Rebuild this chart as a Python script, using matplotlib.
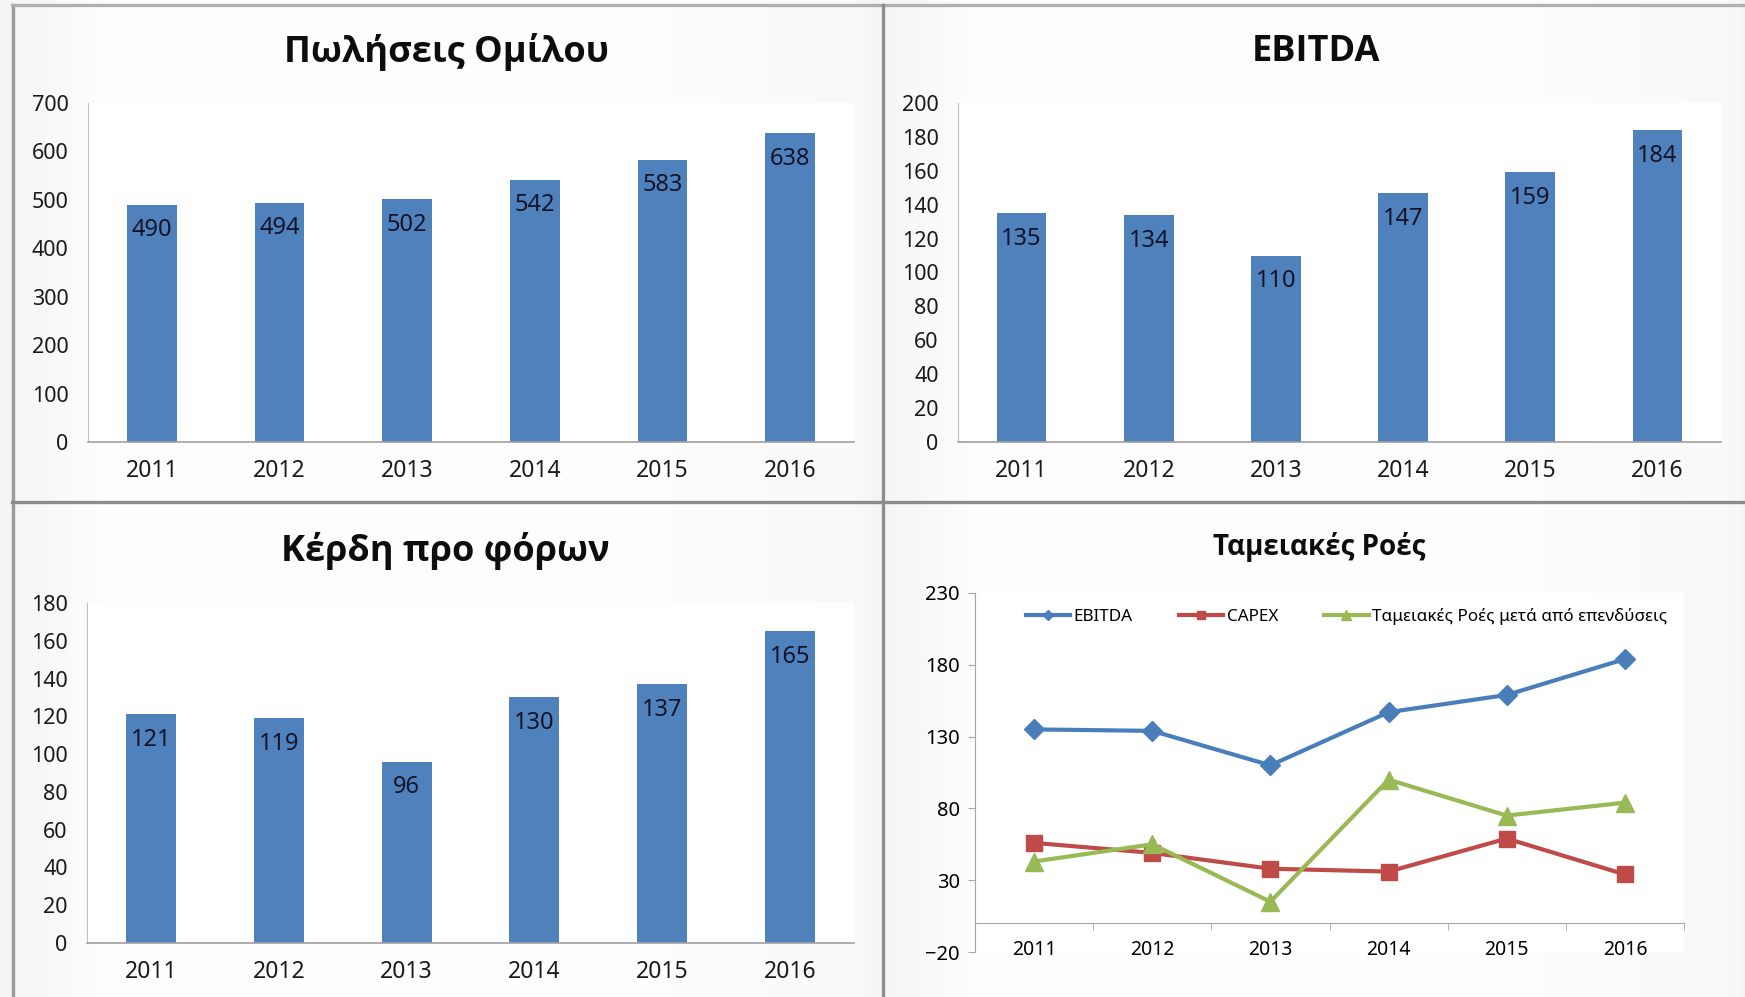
import numpy as np
import matplotlib.pyplot as plt
from matplotlib import font_manager
from matplotlib.lines import Line2D

years = ['2011', '2012', '2013', '2014', '2015', '2016']
sales = [490, 494, 502, 542, 583, 638]
ebitda = [135, 134, 110, 147, 159, 184]
ebt = [121, 119, 96, 130, 137, 165]
capex = [56, 49, 38, 36, 59, 34]
fcf = [43, 55, 15, 100, 75, 84]

BLUE = '#4F81BD'
plt.rcParams['font.family'] = ['Noto Sans', 'DejaVu Sans']
W, H = 1745, 997

# pick a family that really has a bold face for the titles
bold_names = {f.name for f in font_manager.fontManager.ttflist
              if f.weight in (600, 700, 'bold', 'semibold')}
TITLE_FONT = 'DejaVu Sans'
for name in ['Open Sans', 'Noto Sans', 'Roboto', 'Liberation Sans']:
    if name in bold_names:
        TITLE_FONT = name
        break

fig = plt.figure(figsize=(W / 100, H / 100), dpi=100)

# soft grey background
bg = fig.add_axes([0, 0, 1, 1], zorder=-10)
gx, gy = np.meshgrid(np.linspace(0, 1, 400), np.linspace(0, 1, 230))
px = (gx * 2) % 1
g = 0.995 - 0.08 * np.clip(px - 0.72, 0, 1) ** 1.1 - 0.3 * np.clip(0.12 - px, 0, 1)
g = np.clip(g, 0.9, 1)
bg.imshow(np.dstack([g, g, g]), aspect='auto', extent=[0, 1, 0, 1])
bg.set_xlim(0, 1)
bg.set_ylim(0, 1)
bg.axis('off')


def fx(p):
    return p / W


def fy(p):
    return 1 - p / H


def rect(x0, y0, x1, y1):
    return [fx(x0), fy(y1), fx(x1) - fx(x0), fy(y0) - fy(y1)]


# panel borders
for xs, ys, c in [((13, 13), (5, 997), '#9a9a9a'),
                  ((12, 1745), (5, 5), '#b0b0b0'),
                  ((883, 883), (5, 997), '#8c8c8c'),
                  ((12, 1745), (502, 502), '#8c8c8c')]:
    fig.add_artist(Line2D([fx(xs[0]), fx(xs[1])], [fy(ys[0]), fy(ys[1])],
                          color=c, lw=2.4, transform=fig.transFigure))


def bar_panel(r, vals, ymax, step, title, tx, ty):
    ax = fig.add_axes(r)
    x = np.arange(len(years))
    ax.bar(x, vals, width=0.39, color=BLUE)
    for xi, v in zip(x, vals):
        ax.annotate(str(v), (xi, v), xytext=(0, -18.5), textcoords='offset points',
                    ha='center', va='center', fontsize=17, color='#141428')
    ax.set_xlim(-0.5, 5.5)
    ax.set_ylim(0, ymax)
    ax.set_yticks(np.arange(0, ymax + 1, step))
    ax.set_xticks(x)
    ax.set_xticklabels(years)
    ax.tick_params(axis='y', length=0, pad=14, labelsize=15.5, labelcolor='#1a1a1a')
    ax.tick_params(axis='x', length=0, pad=12, labelsize=16.5, labelcolor='#1a1a1a')
    for s in ['top', 'right']:
        ax.spines[s].set_visible(False)
    ax.spines['left'].set_color('#c0c0c0')
    ax.spines['bottom'].set_color('#a0a0a0')
    ax.spines['bottom'].set_linewidth(1.2)
    fig.text(fx(tx), fy(ty), title, fontsize=26, fontweight='bold',
             family=[TITLE_FONT, 'DejaVu Sans'],
             ha='center', va='center', color='#0d0d0d')
    return ax


bar_panel(rect(88, 103, 854, 442), sales, 700, 100, 'Πωλήσεις Ομίλου', 446, 52)
bar_panel(rect(958, 103, 1721, 442), ebitda, 200, 20, 'EBITDA', 1316, 52)
bar_panel(rect(87, 603, 854, 943), ebt, 180, 20, 'Κέρδη προ φόρων', 445, 551)

# cash flow line chart
ax = fig.add_axes(rect(975, 593, 1684, 952))
x = np.arange(len(years))
ax.plot(x, ebitda, color='#4A7EBB', lw=3, marker='D', ms=10, label='EBITDA')
ax.plot(x, capex, color='#BE4B48', lw=3, marker='s', ms=11.5, label='CAPEX')
ax.plot(x, fcf, color='#98B954', lw=3, marker='^', ms=13,
        label='Ταμειακές Ροές μετά από επενδύσεις')
ax.set_xlim(-0.5, 5.5)
ax.set_ylim(-20, 230)
ax.set_yticks(np.arange(-20, 231, 50))
ax.set_xticks(x)
ax.set_xticklabels(years)
ax.set_xticks(np.arange(-0.5, 5.6, 1), minor=True)
ax.spines['bottom'].set_position(('data', 0))
for s in ['top', 'right']:
    ax.spines[s].set_visible(False)
ax.spines['left'].set_color('#a6a6a6')
ax.spines['bottom'].set_color('#a6a6a6')
ax.tick_params(axis='y', length=5, color='#a6a6a6', pad=6, labelsize=14.5)
ax.tick_params(axis='x', which='major', length=0, pad=12, labelsize=14)
ax.tick_params(axis='x', which='minor', length=5, color='#a6a6a6')
ax.legend(loc='upper center', bbox_to_anchor=(0.524, 1.0), ncol=3, frameon=False,
          fontsize=12.3, markerscale=0.5, handlelength=2.6, columnspacing=2.7,
          handletextpad=0.2)
fig.text(fx(1319), fy(547), 'Ταμειακές Ροές', fontsize=20, fontweight='bold',
         family=[TITLE_FONT, 'DejaVu Sans'],
         ha='center', va='center', color='#0d0d0d')

fig.savefig('out.png', dpi=100)
